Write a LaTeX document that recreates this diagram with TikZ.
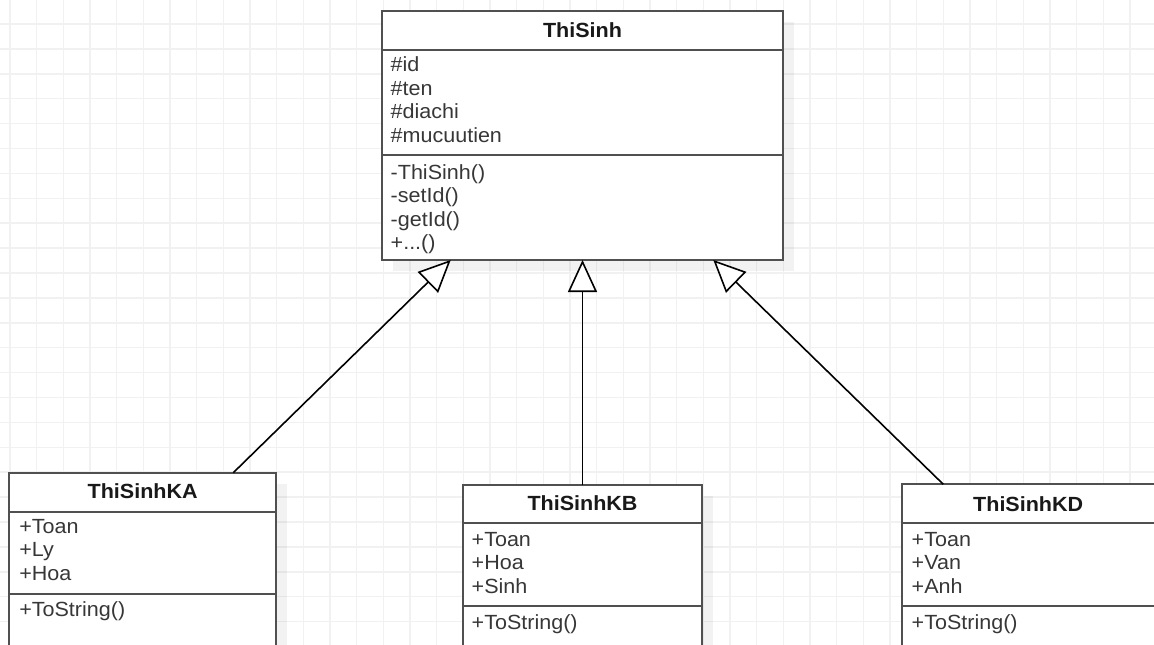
\documentclass[tikz,border=0pt]{standalone}
\usepackage{fontspec}
\setmainfont{Liberation Sans}[FakeStretch=1.05]
\usetikzlibrary{arrows.meta,calc,shadows}
\definecolor{gridcol}{RGB}{241,241,241}
\definecolor{bordercol}{RGB}{80,80,80}
\definecolor{textcol}{RGB}{55,55,55}
\definecolor{titlecol}{RGB}{25,25,25}
\tikzset{
  every node/.style={font=\fontsize{20.5}{23.5}\selectfont, inner sep=0pt, outer sep=0pt},
  gridline/.style={draw=gridcol, line width=1.5pt},
  classbox/.style={draw=bordercol, line width=2.2pt, fill=white, rectangle, anchor=north west,
    drop shadow={shadow xshift=11pt, shadow yshift=-11pt, fill=black, opacity=0.05}},
  sepline/.style={draw=bordercol, line width=2.2pt},
  titletext/.style={anchor=base, text=titlecol, font=\fontsize{20.5}{23.5}\selectfont\bfseries},
  rowtext/.style={anchor=base west, text=textcol},
  gen/.style={draw=black, line width=1.6pt,
    -{Triangle[open, fill=white, length=32pt, width=29pt, line width=1.6pt]}},
}
\begin{document}
\begin{tikzpicture}[x=1pt, y=-1pt]
\useasboundingbox (0,0) rectangle (1154,645);
\clip (0,0) rectangle (1154,645);
% background grid
\foreach \i in {0,...,42} { \draw[gridline] ({10+26.667*\i},0) -- ({10+26.667*\i},645); }
\foreach \j in {0,...,24} { \draw[gridline] (0,{24+24.9*\j}) -- (1154,{24+24.9*\j}); }

% ThiSinh
\node[classbox, minimum width=400.4pt, minimum height=249.3pt] (ts) at (382.3,10.7) {};
\node[titletext] (tsT) at ($(ts.north)+(0,26.6)$) {ThiSinh};
\draw[sepline] ($(ts.north west)+(0,39.3)$) -- ($(ts.north east)+(0,39.3)$);
\node[rowtext] (tsA) at ($(ts.north west)+(8.4,61)$) {\vtop{\hbox{\#id}\hbox{\#ten}\hbox{\#diachi}\hbox{\#mucuutien}}};
\draw[sepline] ($(ts.north west)+(0,144.6)$) -- ($(ts.north east)+(0,144.6)$);
\node[rowtext] (tsM) at ($(ts.north west)+(8.4,168.3)$) {\vtop{\hbox{-ThiSinh()}\hbox{-setId()}\hbox{-getId()}\hbox{+...()}}};

% ThiSinhKA
\node[classbox, minimum width=266.7pt, minimum height=220pt] (ka) at (9.3,472.7) {};
\node[titletext] (kaT) at ($(ka.north)+(0,25.6)$) {ThiSinhKA};
\draw[sepline] ($(ka.north west)+(0,39)$) -- ($(ka.north east)+(0,39)$);
\node[rowtext] (kaA) at ($(ka.north west)+(10,60.6)$) {\vtop{\hbox{+Toan}\hbox{+Ly}\hbox{+Hoa}}};
\draw[sepline] ($(ka.north west)+(0,121.6)$) -- ($(ka.north east)+(0,121.6)$);
\node[rowtext] (kaM) at ($(ka.north west)+(10,144)$) {+ToString()};

% ThiSinhKB
\node[classbox, minimum width=239.6pt, minimum height=220pt] (kb) at (462.7,485) {};
\node[titletext] (kbT) at ($(kb.north)+(0,25.7)$) {ThiSinhKB};
\draw[sepline] ($(kb.north west)+(0,37.7)$) -- ($(kb.north east)+(0,37.7)$);
\node[rowtext] (kbA) at ($(kb.north west)+(9,61)$) {\vtop{\hbox{+Toan}\hbox{+Hoa}\hbox{+Sinh}}};
\draw[sepline] ($(kb.north west)+(0,121)$) -- ($(kb.north east)+(0,121)$);
\node[rowtext] (kbM) at ($(kb.north west)+(9,144.3)$) {+ToString()};

% ThiSinhKD
\node[classbox, minimum width=253pt, minimum height=220pt] (kd) at (901.7,484.3) {};
\node[titletext] (kdT) at ($(kd.north)+(0,27.4)$) {ThiSinhKD};
\draw[sepline] ($(kd.north west)+(0,38.4)$) -- ($(kd.north east)+(0,38.4)$);
\node[rowtext] (kdA) at ($(kd.north west)+(10,61.7)$) {\vtop{\hbox{+Toan}\hbox{+Van}\hbox{+Anh}}};
\draw[sepline] ($(kd.north west)+(0,121.7)$) -- ($(kd.north east)+(0,121.7)$);
\node[rowtext] (kdM) at ($(kd.north west)+(10,145)$) {+ToString()};

% generalization connectors
\coordinate (tipL) at ($(ts.south west)+(68.4,0)$);
\coordinate (tipR) at ($(ts.south east)+(-69.4,0)$);
\coordinate (footL) at ($(ka.north west)+(224,0)$);
\coordinate (footR) at ($(kd.north west)+(41.6,0)$);
\draw[gen] (footL) -- (tipL);
\draw[gen] (kb.north) -- (ts.south);
\draw[gen] (footR) -- (tipR);
\end{tikzpicture}
\end{document}
